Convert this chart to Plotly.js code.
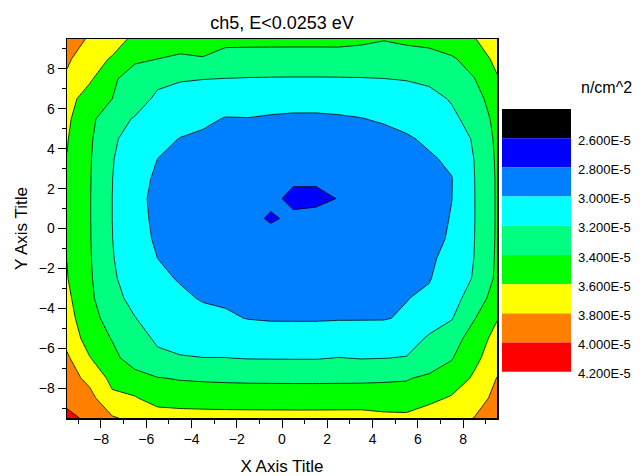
<!DOCTYPE html>
<html>
<head>
<meta charset="utf-8">
<script src="https://cdn.plot.ly/plotly-3.0.1.min.js"></script>
<style>
html,body{margin:0;padding:0;background:#ffffff;}
#chart{width:642px;height:476px;}
</style>
</head>
<body>
<div id="chart"></div>
<script>
// Grid cell centres (cm)
const xCenters = [-9.5,-8.5,-7.5,-6.5,-5.5,-4.5,-3.5,-2.5,-1.5,-0.5,0.5,1.5,2.5,3.5,4.5,5.5,6.5,7.5,8.5,9.5];
const yCenters = [-9.5,-8.5,-7.5,-6.5,-5.5,-4.5,-3.5,-2.5,-1.5,-0.5,0.5,1.5,2.5,3.5,4.5,5.5,6.5,7.5,8.5,9.5];

// Fluence in units of 1E-5 n/cm^2; one row per y (bottom row first)
const fluence = [
  [4.070,3.943,3.818,3.755,3.708,3.694,3.688,3.684,3.682,3.681,3.680,3.680,3.681,3.682,3.650,3.640,3.702,3.726,3.805,3.949],
  [3.921,3.860,3.640,3.615,3.513,3.496,3.489,3.485,3.482,3.481,3.480,3.480,3.481,3.482,3.486,3.493,3.550,3.620,3.700,3.860],
  [3.880,3.750,3.547,3.468,3.407,3.388,3.380,3.375,3.372,3.371,3.370,3.370,3.371,3.372,3.376,3.384,3.440,3.480,3.630,3.805],
  [3.830,3.610,3.450,3.312,3.237,3.213,3.203,3.203,3.193,3.191,3.190,3.190,3.205,3.193,3.198,3.208,3.260,3.390,3.550,3.720],
  [3.740,3.509,3.390,3.273,3.171,3.134,3.116,3.102,3.093,3.086,3.082,3.082,3.086,3.093,3.105,3.125,3.220,3.300,3.500,3.660],
  [3.680,3.463,3.330,3.204,3.142,3.088,3.058,3.020,2.995,2.985,2.985,2.985,2.990,2.990,2.990,3.020,3.122,3.190,3.390,3.590],
  [3.640,3.442,3.242,3.161,3.090,3.035,2.985,2.980,2.960,2.945,2.935,2.935,2.945,2.960,2.985,2.995,3.030,3.136,3.280,3.500],
  [3.608,3.426,3.221,3.126,3.040,2.985,2.955,2.930,2.910,2.895,2.885,2.885,2.895,2.910,2.935,2.970,2.990,3.088,3.216,3.436],
  [3.598,3.417,3.209,3.101,3.000,2.945,2.915,2.890,2.870,2.855,2.845,2.845,2.855,2.870,2.895,2.930,2.980,3.040,3.204,3.427],
  [3.597,3.412,3.202,3.084,2.970,2.915,2.885,2.860,2.840,2.825,2.815,2.815,2.825,2.840,2.865,2.900,2.950,3.020,3.198,3.422],
  [3.595,3.410,3.200,3.079,2.950,2.895,2.865,2.840,2.820,2.792,2.812,2.820,2.805,2.820,2.845,2.880,2.930,3.010,3.195,3.420],
  [3.595,3.410,3.200,3.070,2.940,2.885,2.855,2.830,2.815,2.815,2.785,2.785,2.802,2.810,2.835,2.870,2.920,2.998,3.195,3.420],
  [3.596,3.412,3.202,3.082,2.965,2.910,2.880,2.855,2.835,2.820,2.810,2.810,2.820,2.835,2.860,2.895,2.945,2.995,3.197,3.421],
  [3.595,3.417,3.209,3.101,3.000,2.945,2.915,2.890,2.870,2.855,2.845,2.845,2.855,2.870,2.895,2.930,2.980,3.030,3.204,3.427],
  [3.611,3.429,3.225,3.133,3.050,2.995,2.965,2.940,2.920,2.905,2.895,2.895,2.905,2.920,2.945,2.980,3.030,3.098,3.220,3.439],
  [3.633,3.455,3.259,3.188,3.125,3.070,3.040,2.990,2.995,2.980,2.970,2.970,2.980,2.995,3.020,3.055,3.105,3.170,3.254,3.465],
  [3.675,3.504,3.400,3.274,3.169,3.129,3.110,3.095,3.084,3.077,3.072,3.072,3.077,3.084,3.098,3.120,3.154,3.212,3.316,3.513],
  [3.760,3.630,3.430,3.312,3.237,3.213,3.203,3.197,3.193,3.191,3.190,3.190,3.191,3.193,3.198,3.208,3.228,3.266,3.395,3.582],
  [3.840,3.644,3.590,3.430,3.400,3.370,3.390,3.301,3.297,3.296,3.295,3.295,3.296,3.297,3.302,3.311,3.328,3.375,3.482,3.652],
  [3.914,3.773,3.650,3.575,3.503,3.487,3.479,3.475,3.472,3.471,3.470,3.470,3.471,3.445,3.410,3.440,3.460,3.524,3.585,3.780]
];

// Contour levels (1E-5 n/cm^2)
const levelStart = 2.6;
const levelEnd = 4.0;
const levelStep = 0.2;

// Legend bands, top to bottom, and labels at the band boundaries
const bandColors = ['#000000','#0000FF','#0080FF','#00FFFF','#00FF80','#00FF00','#FFFF00','#FF8000','#FF0000'];
const legendLabels = ['2.600E-5','2.800E-5','3.000E-5','3.200E-5','3.400E-5','3.600E-5','3.800E-5','4.000E-5','4.200E-5'];
const legendTitle = 'n/cm^2';

const FONT = 'Arial, "Liberation Sans", sans-serif';

// stepwise colorscale: one colour per filled band (below first level ... above last level)
const nb = bandColors.length;
const colorscale = [];
bandColors.forEach((c, k) => {
  const lo = k === 0 ? 0 : (k - 0.5) / (nb - 1);
  const hi = k === nb - 1 ? 1 : (k + 0.5) / (nb - 1);
  colorscale.push([lo, c]);
  colorscale.push([hi, c]);
});

// layout geometry (pixels)
const W = 642, H = 476;
const M = {l: 67, r: 145, t: 39, b: 58};
const pw = W - M.l - M.r, ph = H - M.t - M.b;
const px2x = p => (p - M.l) / pw;
const py2y = p => (H - M.b - p) / ph;

const legX0 = 502, legX1 = 571, legTop = 109, legBandH = 29.2;
const shapes = [];
const annotations = [];
bandColors.forEach((c, k) => {
  shapes.push({
    type: 'rect', xref: 'paper', yref: 'paper', layer: 'above',
    x0: px2x(legX0), x1: px2x(legX1),
    y0: py2y(legTop + (k + 1) * legBandH), y1: py2y(legTop + k * legBandH),
    fillcolor: c, line: {width: 0}
  });
});
legendLabels.forEach((t, k) => {
  annotations.push({
    xref: 'paper', yref: 'paper', x: px2x(576), y: py2y(legTop + (k + 1) * legBandH + 2),
    xanchor: 'left', yanchor: 'middle', showarrow: false, text: t,
    font: {family: FONT, size: 13, color: '#000'}
  });
});
annotations.push({
  xref: 'paper', yref: 'paper', x: px2x(606), y: py2y(87),
  xanchor: 'center', yanchor: 'middle', showarrow: false, text: legendTitle,
  font: {family: FONT, size: 16, color: '#000'}
});

const trace = {
  type: 'contour',
  x: xCenters, y: yCenters, z: fluence,
  autocontour: false,
  contours: {start: levelStart, end: levelEnd, size: levelStep, coloring: 'fill', showlines: true},
  line: {color: '#000000', width: 0.8, smoothing: 0},
  colorscale: colorscale,
  showscale: false,
  hoverinfo: 'skip'
};

const axisCommon = {
  range: [-9.5, 9.5], autorange: false,
  tickmode: 'linear', tick0: 0, dtick: 2,
  ticks: 'outside', ticklen: 8, tickwidth: 1, tickcolor: '#000',
  minor: {dtick: 1, ticks: 'outside', ticklen: 4, tickwidth: 1, tickcolor: '#000', showgrid: false},
  showline: true, linecolor: '#000', linewidth: 1.5, mirror: true,
  showgrid: false, zeroline: false,
  tickfont: {family: FONT, size: 14, color: '#000'}
};

const layout = {
  width: W, height: H,
  margin: M,
  paper_bgcolor: '#ffffff', plot_bgcolor: '#ffffff',
  showlegend: false,
  title: {
    text: 'ch5, E&lt;0.0253 eV',
    xref: 'paper', x: 0.5, xanchor: 'center',
    yref: 'container', y: 1 - 23 / H, yanchor: 'middle',
    font: {family: FONT, size: 18, color: '#000'}
  },
  xaxis: Object.assign({}, axisCommon, {
    title: {text: 'X Axis Title', font: {family: FONT, size: 17, color: '#000'}, standoff: 15}
  }),
  yaxis: Object.assign({}, axisCommon, {
    title: {text: 'Y Axis Title', font: {family: FONT, size: 17, color: '#000'}, standoff: 7}
  }),
  shapes: shapes,
  annotations: annotations
};

Plotly.newPlot('chart', [trace], layout, {staticPlot: true, displayModeBar: false});
</script>
</body>
</html>
